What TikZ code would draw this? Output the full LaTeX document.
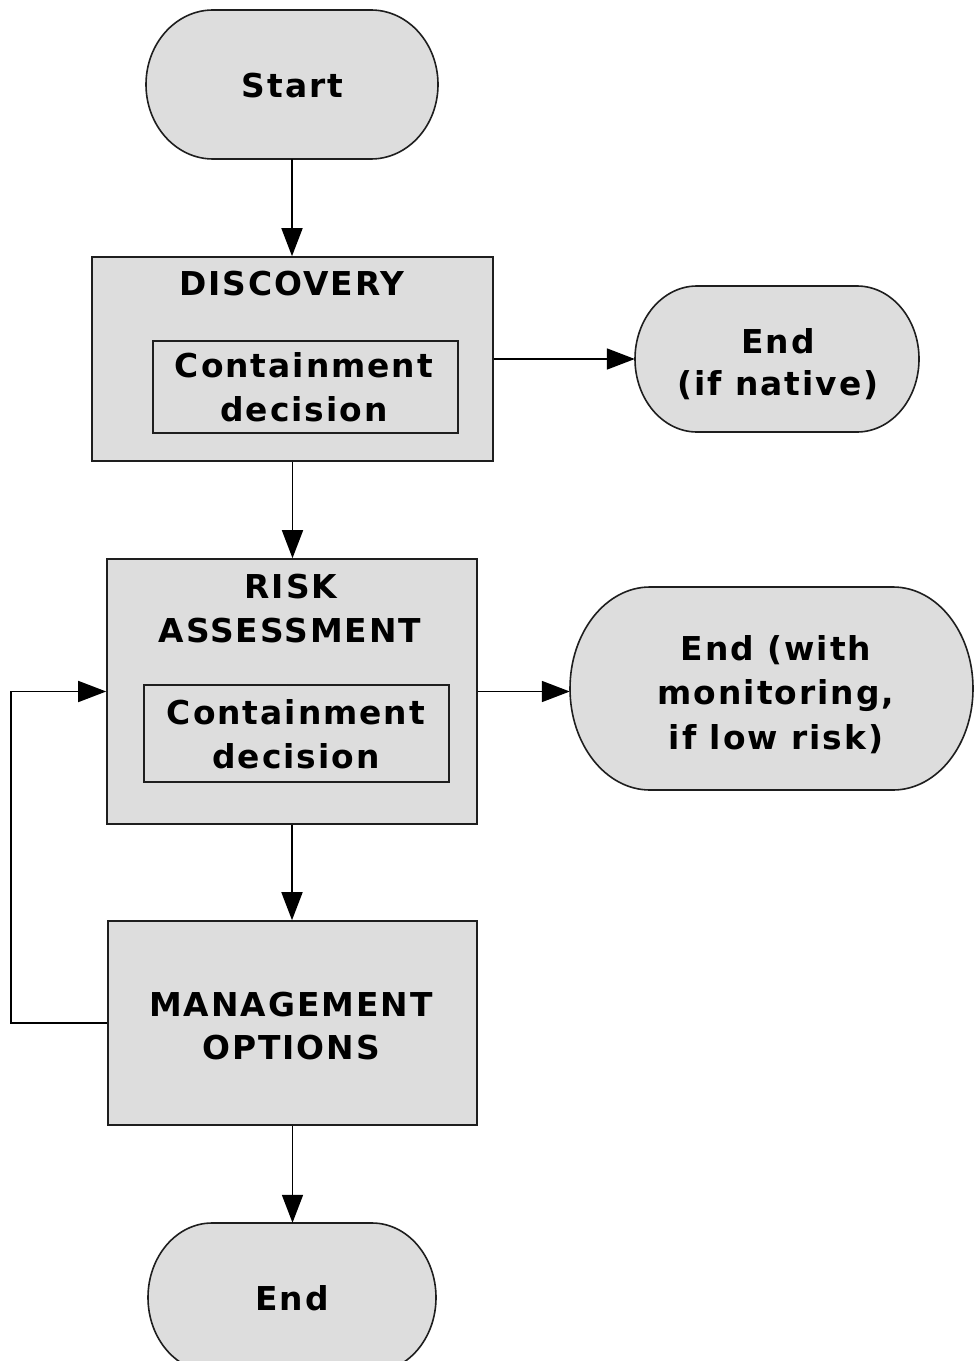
\documentclass[tikz,border=0pt]{standalone}
\usepackage{fontspec}
\setmainfont{DejaVu Sans}[LetterSpace=6]
\usetikzlibrary{arrows.meta}
\definecolor{boxfill}{RGB}{221,221,221}
\definecolor{edgecol}{RGB}{30,30,30}
\tikzset{
  boxline/.style={draw=edgecol, line width=1.6bp, fill=boxfill},
  innerbox/.style={draw=edgecol, line width=1.4bp, rectangle, inner sep=0pt},
  outerbox/.style={boxline, rectangle, inner sep=0pt},
  anchorbox/.style={rectangle, inner sep=0pt},
  lbl/.style={anchor=base, inner sep=0pt, font=\fontsize{33}{44}\selectfont\bfseries},
  flow/.style={draw=black, line width=1.7bp, -{Triangle[length=28bp, width=21bp]}},
}
\newcommand\stadshape[5]{%
  \pgfmathsetmacro\sdxa{#1}\pgfmathsetmacro\sdya{#2}%
  \pgfmathsetmacro\sdxb{#3}\pgfmathsetmacro\sdyb{#4}%
  \pgfmathsetmacro\sdrx{#5}%
  \pgfmathsetmacro\sdry{(\sdyb-\sdya)/2}%
  \pgfmathsetmacro\sdym{(\sdya+\sdyb)/2}%
  \pgfmathsetmacro\sdkx{0.5523*\sdrx}%
  \pgfmathsetmacro\sdky{0.5523*\sdry}%
  \draw[boxline] (\sdxa+\sdrx,\sdya) -- (\sdxb-\sdrx,\sdya)
    .. controls (\sdxb-\sdrx+\sdkx,\sdya) and (\sdxb,\sdym-\sdky) .. (\sdxb,\sdym)
    .. controls (\sdxb,\sdym+\sdky) and (\sdxb-\sdrx+\sdkx,\sdyb) .. (\sdxb-\sdrx,\sdyb)
    -- (\sdxa+\sdrx,\sdyb)
    .. controls (\sdxa+\sdrx-\sdkx,\sdyb) and (\sdxa,\sdym+\sdky) .. (\sdxa,\sdym)
    .. controls (\sdxa,\sdym-\sdky) and (\sdxa+\sdrx-\sdkx,\sdya) .. (\sdxa+\sdrx,\sdya) -- cycle;
}
\begin{document}
\begin{tikzpicture}[x=1bp, y=-1bp]
\useasboundingbox (0,0) rectangle (974,1361);

% Start
\stadshape{146}{10}{438}{159}{67}
\node[anchorbox, minimum width=292bp, minimum height=149bp] (start) at (292,84.5) {};
\node[lbl] (startt) at (292.5,98) {Start};

% Discovery
\node[outerbox, minimum width=401bp, minimum height=204bp] (disc) at (292.5,359) {};
\node[lbl] (disct) at (292,295) {DISCOVERY};
\node[innerbox, minimum width=305bp, minimum height=92bp] (discin) at (305.5,387) {};
\node[lbl] (discc1) at (304,377) {Containment};
\node[lbl] (discc2) at (304,421) {decision};

% End (if native)
\stadshape{635}{286}{919}{432}{62}
\node[anchorbox, minimum width=284bp, minimum height=146bp] (endnat) at (777,359) {};
\node[lbl] (endnat1) at (778,353) {End};
\node[lbl] (endnat2) at (778,395) {(if native)};

% Risk assessment
\node[outerbox, minimum width=370bp, minimum height=265bp] (risk) at (292,691.5) {};
\node[lbl] (riskt1) at (291,598) {RISK};
\node[lbl] (riskt2) at (290,642) {ASSESSMENT};
\node[innerbox, minimum width=305bp, minimum height=97bp] (riskin) at (296.5,733.5) {};
\node[lbl] (riskc1) at (296,724) {Containment};
\node[lbl] (riskc2) at (296,768) {decision};

% End (with monitoring)
\stadshape{570}{587}{973}{790}{80}
\node[anchorbox, minimum width=403bp, minimum height=203bp] (endmon) at (771.5,688.5) {};
\node[lbl] (endmon1) at (776,660) {End (with};
\node[lbl] (endmon2) at (776,704) {monitoring,};
\node[lbl] (endmon3) at (776,749) {if low risk)};

% Management options
\node[outerbox, minimum width=369bp, minimum height=204bp] (mgmt) at (292.5,1023) {};
\node[lbl] (mgmt1) at (291,1016) {MANAGEMENT};
\node[lbl] (mgmt2) at (291,1059) {OPTIONS};

% End
\stadshape{148}{1223}{436}{1372}{64}
\node[anchorbox, minimum width=288bp, minimum height=149bp] (endb) at (292,1297.5) {};
\node[lbl] (endbt) at (292,1310) {End};

% connectors
\coordinate (loopcorner) at (11,1023);
\draw[flow] (start.south) -- (start.south |- disc.north);
\draw[flow] (disc.east) -- (disc.east -| endnat.west);
\draw[flow] (disc.south) -- (disc.south |- risk.north);
\draw[flow] (risk.east) -- (risk.east -| endmon.west);
\draw[flow] (risk.south) -- (risk.south |- mgmt.north);
\draw[flow] (mgmt.west) -- (loopcorner) |- (risk.west);
\draw[flow] (mgmt.south) -- (mgmt.south |- endb.north);
\end{tikzpicture}
\end{document}
